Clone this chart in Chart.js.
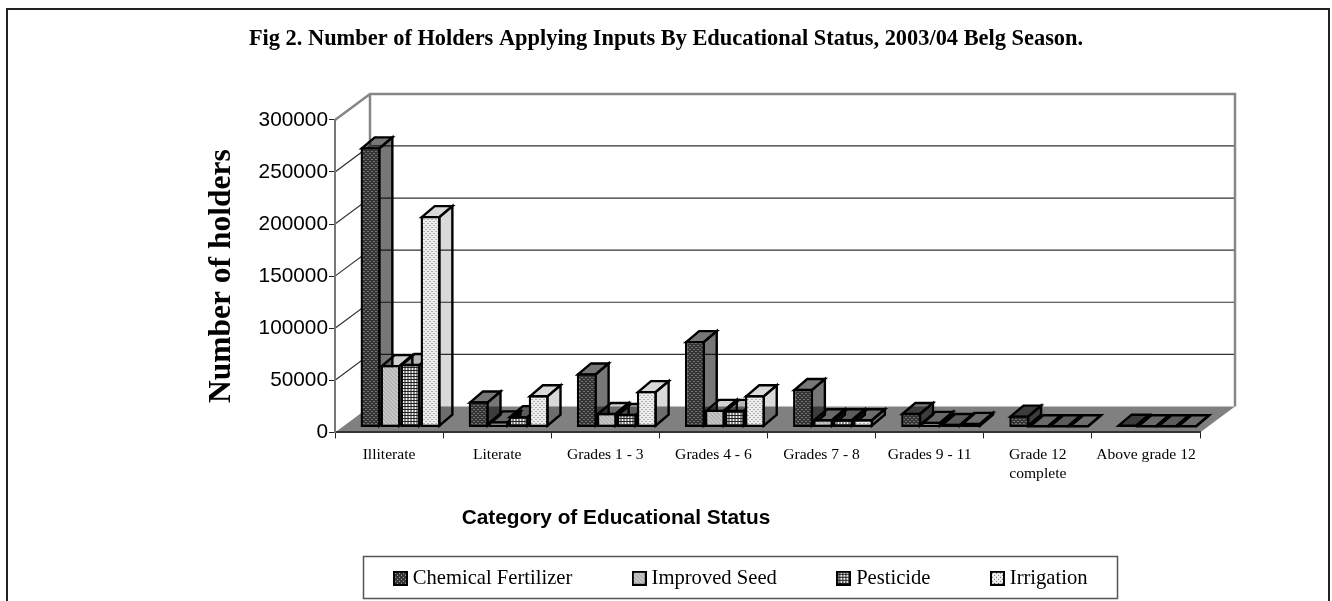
<!DOCTYPE html>
<html>
<head>
<meta charset="utf-8">
<title>Fig 2</title>
<script src="https://cdn.jsdelivr.net/npm/chart.js@4"></script>
<style>
    html, body { margin: 0; padding: 0; background: #fff; overflow: hidden; }
    canvas { display: block; }
</style>
</head>
<body>
<canvas id="migrafico" width="1332" height="601"></canvas>
<script>
const categorias = ['Illiterate', 'Literate', 'Grades 1 - 3', 'Grades 4 - 6', 'Grades 7 - 8', 'Grades 9 - 11', ['Grade 12', 'complete'], 'Above grade 12'];
const fertilizante = [269000, 25000, 52000, 83000, 37000, 14000, 11500, 2500];
const semilla = [60000, 6000, 14000, 17000, 8000, 5500, 0, 0];
const pesticida = [61000, 11000, 13000, 17000, 8000, 3500, 0, 0];
const riego = [203000, 31000, 35000, 31000, 8000, 4500, 0, 0];
const ticksY = [0, 50000, 100000, 150000, 200000, 250000, 300000];

const tituloEjeX = 'Category of Educational Status';

// profundidad del piso/pared y de cada barra
const FONDO_X = 35, FONDO_Y = -26;
const BARRA_X = 13, BARRA_Y = -11;
const DESP_X = 11.5, DESP_Y = -5;

function crearTile(size, fondo, tinta, puntos) {
    const c = document.createElement('canvas');
    c.width = c.height = size;
    const g = c.getContext('2d');
    if (fondo) {
        g.fillStyle = fondo;
        g.fillRect(0, 0, size, size);
    }
    g.fillStyle = tinta;
    puntos.forEach(p => g.fillRect(p[0], p[1], 1, 1));
    return c;
}

function patron(size, fondo, tinta, puntos) {
    return document.createElement('canvas').getContext('2d').createPattern(crearTile(size, fondo, tinta, puntos), 'repeat');
}

const frentes = [
    patron(4, '#333333', '#b8b8b8', [[0, 0], [2, 2]]),
    patron(4, '#c8c8c8', '#9c9c9c', [[0, 0], [1, 1], [2, 2], [3, 3]]),
    patron(3, '#f0f0f0', '#222222', [[0, 0], [1, 0], [2, 0], [0, 1], [0, 2]]),
    patron(4, '#eeeeee', '#707070', [[0, 0], [2, 2]])
];
const lados = [
    patron(2, 'rgba(0,0,0,0.36)', 'rgba(0,0,0,0.54)', [[0, 0], [1, 1]]),
    patron(2, 'rgba(0,0,0,0.1)', 'rgba(0,0,0,0.18)', [[0, 0], [1, 1]]),
    patron(2, 'rgba(0,0,0,0.16)', 'rgba(0,0,0,0.3)', [[0, 0], [1, 1]]),
    patron(2, 'rgba(0,0,0,0.09)', 'rgba(0,0,0,0.13)', [[0, 0], [1, 1]])
];

function crearMuestra(fill) {
    const c = document.createElement('canvas');
    c.width = c.height = 15;
    const g = c.getContext('2d');
    g.fillStyle = '#000';
    g.fillRect(0, 0, 15, 15);
    g.fillStyle = fill;
    g.fillRect(2, 2, 11, 11);
    return c;
}
const muestras = frentes.map(crearMuestra);

function poligono(ctx, pts) {
    ctx.beginPath();
    pts.forEach((p, i) => i ? ctx.lineTo(p[0], p[1]) : ctx.moveTo(p[0], p[1]));
    ctx.closePath();
}

const escena3d = {
    id: 'escena3d',
    // marco, paredes, piso y lineas de fondo
    beforeDraw(chart) {
        const { ctx, chartArea: a, scales: { y } } = chart;
        ctx.save();
        ctx.strokeStyle = '#222';
        ctx.lineWidth = 2;
        ctx.beginPath();
        ctx.moveTo(7, 601); ctx.lineTo(7, 9); ctx.lineTo(1329, 9); ctx.lineTo(1329, 601);
        ctx.stroke();

        ctx.fillStyle = '#808080';
        poligono(ctx, [[a.left, a.bottom], [a.right, a.bottom], [a.right + FONDO_X, a.bottom + FONDO_Y], [a.left + FONDO_X, a.bottom + FONDO_Y]]);
        ctx.fill();

        ctx.strokeStyle = '#333';
        ctx.lineWidth = 1.2;
        ticksY.slice(1, -1).forEach(t => {
            const py = y.getPixelForValue(t);
            ctx.beginPath();
            ctx.moveTo(a.left, py);
            ctx.lineTo(a.left + FONDO_X, py + FONDO_Y);
            ctx.lineTo(a.right + FONDO_X, py + FONDO_Y);
            ctx.stroke();
        });

        ctx.strokeStyle = '#868686';
        ctx.lineWidth = 2.5;
        ctx.beginPath();
        ctx.moveTo(a.left, a.top);
        ctx.lineTo(a.left + FONDO_X, a.top + FONDO_Y);
        ctx.lineTo(a.right + FONDO_X, a.top + FONDO_Y);
        ctx.lineTo(a.right + FONDO_X, a.bottom + FONDO_Y);
        ctx.moveTo(a.left + FONDO_X, a.top + FONDO_Y);
        ctx.lineTo(a.left + FONDO_X, a.bottom + FONDO_Y);
        ctx.stroke();
        ctx.restore();
    },
    afterLayout(chart) {
        // titulo centrado en el canvas, leyenda con su propia caja
        chart.titleBlock.left = 0;
        chart.titleBlock.right = 1332;
        const l = chart.legend;
        const alto = l.bottom - l.top;
        l.left = 286;
        l.right = 1200;
        l.top = 503;
        l.bottom = l.top + alto;
    },
    // las series se dibujan de izquierda a derecha, cada una tapa el lado de la anterior
    beforeDatasetDraw() {
        return false;
    },
    afterDatasetsDraw(chart) {
        const ctx = chart.ctx;
        chart.data.datasets.forEach((ds, index) => {
            const meta = chart.getDatasetMeta(index);
            ctx.save();
            ctx.translate(DESP_X, DESP_Y);
            meta.controller.draw();
            ctx.fillStyle = lados[index];
            ctx.strokeStyle = '#000';
            ctx.lineWidth = 2.4;
            ctx.lineJoin = 'miter';
            meta.data.forEach(b => {
                const izq = b.x - b.width / 2 + 1.2;
                const der = b.x + b.width / 2 - 1.2;
                const abajo = b.base - 1.2;
                const arriba = Math.min(b.y + 1.2, abajo);
                poligono(ctx, [[der, arriba], [der + BARRA_X, arriba + BARRA_Y], [der + BARRA_X, abajo + BARRA_Y], [der, abajo]]);
                ctx.fill();
                ctx.stroke();
                poligono(ctx, [[izq, arriba], [izq + BARRA_X, arriba + BARRA_Y], [der + BARRA_X, arriba + BARRA_Y], [der, arriba]]);
                ctx.fill();
                ctx.stroke();
            });
            ctx.restore();
        });
    },
    afterDraw(chart) {
        const ctx = chart.ctx;
        ctx.save();
        ctx.fillStyle = '#000';
        ctx.font = 'bold 20.8px "Liberation Sans"';
        ctx.textAlign = 'center';
        ctx.textBaseline = 'middle';
        ctx.fillText(tituloEjeX, 616, 518);
        ctx.strokeStyle = '#555';
        ctx.lineWidth = 1.5;
        ctx.strokeRect(363.5, 556.5, 754, 42);
        ctx.restore();
    }
};

const ctx = document.getElementById('migrafico').getContext('2d');

const comunes = { borderColor: '#000', borderWidth: 2.4, borderSkipped: false, categoryPercentage: 0.74, barPercentage: 1 };

const myChart = new Chart(ctx, {
    type: 'bar',
    data: {
        labels: categorias,
        datasets: [
            { label: 'Chemical Fertilizer', data: fertilizante, backgroundColor: frentes[0], ...comunes },
            { label: 'Improved Seed', data: semilla, backgroundColor: frentes[1], ...comunes },
            { label: 'Pesticide', data: pesticida, backgroundColor: frentes[2], ...comunes },
            { label: 'Irrigation', data: riego, backgroundColor: frentes[3], ...comunes }
        ]
    },
    options: {
        responsive: false,
        animation: false,
        layout: { padding: { left: 203, right: 132, top: 0, bottom: 0 } },
        plugins: {
            title: {
                display: true,
                text: 'Fig 2. Number of Holders Applying Inputs By Educational Status, 2003/04 Belg Season.',
                color: '#000',
                font: { family: '"Liberation Serif"', size: 22.4, weight: 'bold', lineHeight: 1.2 },
                padding: { top: 26, bottom: 67 }
            },
            legend: {
                position: 'bottom',
                labels: {
                    color: '#000',
                    font: { family: '"Liberation Serif"', size: 20.6 },
                    usePointStyle: true,
                    pointStyleWidth: 4,
                    padding: 65,
                    generateLabels(chart) {
                        const items = Chart.defaults.plugins.legend.labels.generateLabels(chart);
                        items.forEach(it => { it.pointStyle = muestras[it.datasetIndex]; });
                        return items;
                    }
                }
            },
            tooltip: { enabled: false }
        },
        scales: {
            x: {
                offset: true,
                grid: { offset: true, drawOnChartArea: false, color: '#222', tickLength: 6 },
                border: { color: '#333', width: 2 },
                afterFit(scale) { scale.height = 73; },
                ticks: {
                    color: '#000',
                    maxRotation: 0,
                    autoSkip: false,
                    padding: 7,
                    font: { family: '"Liberation Serif"', size: 15.6 }
                }
            },
            y: {
                min: 0,
                max: 300000,
                afterFit(scale) { scale.width = 132; },
                grid: { drawOnChartArea: false, color: '#222', tickLength: 6 },
                border: { color: '#777', width: 2 },
                title: {
                    display: true,
                    text: 'Number of holders',
                    color: '#000',
                    font: { family: '"Liberation Serif"', size: 31.5, weight: 'bold' },
                    padding: { top: 0, bottom: 0 }
                },
                afterBuildTicks(scale) { scale.ticks = ticksY.map(v => ({ value: v })); },
                ticks: {
                    color: '#000',
                    padding: 1,
                    font: { family: '"Liberation Sans"', size: 20.8 },
                    callback: v => String(v)
                }
            }
        }
    },
    plugins: [escena3d]
});
</script>
</body>
</html>
